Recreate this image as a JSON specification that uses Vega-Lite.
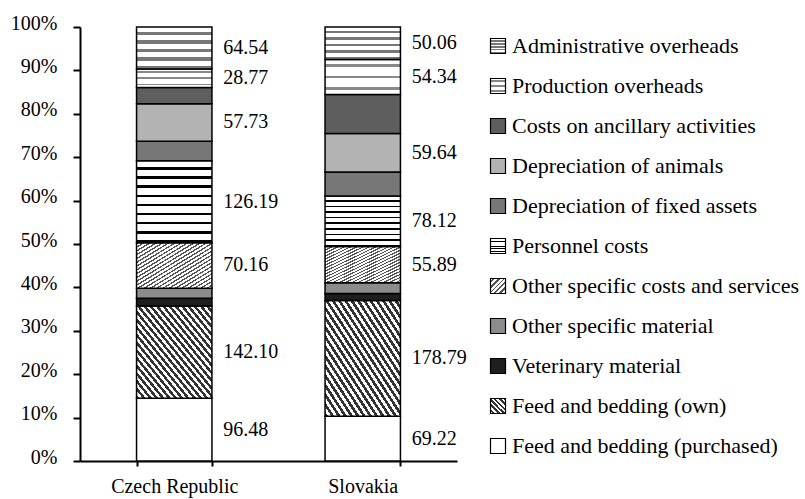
{
  "$schema": "https://vega.github.io/schema/vega-lite/v6.json",
  "width": 377,
  "height": 434,
  "autosize": {"type": "none"},
  "padding": {"left": 80, "top": 27, "right": 348, "bottom": 38},
  "background": "white",
  "config": {
    "font": "Liberation Serif",
    "view": {"stroke": null},
    "axis": {"labelFont": "Liberation Serif", "labelColor": "black", "domainColor": "black", "tickColor": "black", "domainWidth": 2, "tickWidth": 2, "grid": false, "title": null},
    "legend": {"labelFont": "Liberation Serif", "labelColor": "black"}
  },
  "data": {
    "values": [
      {"country": "Czech Republic", "cat": "Feed and bedding (purchased)", "rank": 1, "value": 96.48, "label": "96.48"},
      {"country": "Czech Republic", "cat": "Feed and bedding (own)", "rank": 2, "value": 142.10, "label": "142.10"},
      {"country": "Czech Republic", "cat": "Veterinary material", "rank": 3, "value": 12.0, "label": ""},
      {"country": "Czech Republic", "cat": "Other specific material", "rank": 4, "value": 15.4, "label": ""},
      {"country": "Czech Republic", "cat": "Other specific costs and services", "rank": 5, "value": 70.16, "label": "70.16"},
      {"country": "Czech Republic", "cat": "Personnel costs", "rank": 6, "value": 126.19, "label": "126.19"},
      {"country": "Czech Republic", "cat": "Depreciation of fixed assets", "rank": 7, "value": 30.0, "label": ""},
      {"country": "Czech Republic", "cat": "Depreciation of animals", "rank": 8, "value": 57.73, "label": "57.73"},
      {"country": "Czech Republic", "cat": "Costs on ancillary activities", "rank": 9, "value": 24.8, "label": ""},
      {"country": "Czech Republic", "cat": "Production overheads", "rank": 10, "value": 28.77, "label": "28.77"},
      {"country": "Czech Republic", "cat": "Administrative overheads", "rank": 11, "value": 64.54, "label": "64.54"},
      {"country": "Slovakia", "cat": "Feed and bedding (purchased)", "rank": 1, "value": 69.22, "label": "69.22"},
      {"country": "Slovakia", "cat": "Feed and bedding (own)", "rank": 2, "value": 178.79, "label": "178.79"},
      {"country": "Slovakia", "cat": "Veterinary material", "rank": 3, "value": 10.8, "label": ""},
      {"country": "Slovakia", "cat": "Other specific material", "rank": 4, "value": 16.8, "label": ""},
      {"country": "Slovakia", "cat": "Other specific costs and services", "rank": 5, "value": 55.89, "label": "55.89"},
      {"country": "Slovakia", "cat": "Personnel costs", "rank": 6, "value": 78.12, "label": "78.12"},
      {"country": "Slovakia", "cat": "Depreciation of fixed assets", "rank": 7, "value": 37.0, "label": ""},
      {"country": "Slovakia", "cat": "Depreciation of animals", "rank": 8, "value": 59.64, "label": "59.64"},
      {"country": "Slovakia", "cat": "Costs on ancillary activities", "rank": 9, "value": 60.0, "label": ""},
      {"country": "Slovakia", "cat": "Production overheads", "rank": 10, "value": 54.34, "label": "54.34"},
      {"country": "Slovakia", "cat": "Administrative overheads", "rank": 11, "value": 50.06, "label": "50.06"}
    ]
  },
  "encoding": {
    "x": {
      "field": "country", "type": "nominal", "sort": ["Czech Republic", "Slovakia"],
      "scale": {"paddingInner": 0.6, "paddingOuter": 0.3},
      "axis": {"labelAngle": 0, "tickBand": "extent", "tickSize": 5, "labelFontSize": 20, "labelPadding": 10}
    },
    "order": {"field": "rank", "type": "quantitative", "sort": "ascending"}
  },
  "layer": [
    {
      "mark": {"type": "bar", "stroke": "black", "strokeWidth": 1.5, "opacity": 1},
      "encoding": {
        "y": {
          "field": "value", "type": "quantitative", "stack": "normalize",
          "scale": {"domain": [0, 1]},
          "axis": {"values": [0, 0.1, 0.2, 0.3, 0.4, 0.5, 0.6, 0.7, 0.8, 0.9, 1], "format": ".0%", "tickSize": 7, "labelFontSize": 20, "labelPadding": 16, "labelOffset": -4}
        },
        "fill": {
          "field": "cat", "type": "nominal",
          "scale": {
            "domain": ["Administrative overheads", "Production overheads", "Costs on ancillary activities", "Depreciation of animals", "Depreciation of fixed assets", "Personnel costs", "Other specific costs and services", "Other specific material", "Veterinary material", "Feed and bedding (own)", "Feed and bedding (purchased)"],
            "range": [
              {"expr": "{gradient:'linear',x1:0,y1:0,x2:0,y2:1,stops:[{offset:0,color:'#fff'},{offset:0.12,color:'#fff'},{offset:0.12,color:'#777'},{offset:0.2,color:'#777'},{offset:0.2,color:'#fff'},{offset:0.32,color:'#fff'},{offset:0.32,color:'#777'},{offset:0.4,color:'#777'},{offset:0.4,color:'#fff'},{offset:0.52,color:'#fff'},{offset:0.52,color:'#777'},{offset:0.6,color:'#777'},{offset:0.6,color:'#fff'},{offset:0.72,color:'#fff'},{offset:0.72,color:'#777'},{offset:0.8,color:'#777'},{offset:0.8,color:'#fff'},{offset:0.92,color:'#fff'},{offset:0.92,color:'#777'},{offset:1,color:'#777'}]}"},
              {"expr": "{gradient:'linear',x1:0,y1:0,x2:0,y2:1,stops:[{offset:0,color:'#fff'},{offset:0.125,color:'#fff'},{offset:0.125,color:'#888'},{offset:0.2083,color:'#888'},{offset:0.2083,color:'#fff'},{offset:0.4583,color:'#fff'},{offset:0.4583,color:'#888'},{offset:0.5417,color:'#888'},{offset:0.5417,color:'#fff'},{offset:0.7917,color:'#fff'},{offset:0.7917,color:'#888'},{offset:0.875,color:'#888'},{offset:0.875,color:'#fff'},{offset:1,color:'#fff'}]}"},
              "#5e5e5e",
              "#b3b3b3",
              "#777777",
              {"expr": "{gradient:'linear',x1:0,y1:0,x2:0,y2:1,stops:[{offset:0,color:'#fff'},{offset:0.08,color:'#fff'},{offset:0.08,color:'#000'},{offset:0.1111,color:'#000'},{offset:0.1111,color:'#fff'},{offset:0.1911,color:'#fff'},{offset:0.1911,color:'#000'},{offset:0.2222,color:'#000'},{offset:0.2222,color:'#fff'},{offset:0.3022,color:'#fff'},{offset:0.3022,color:'#000'},{offset:0.3333,color:'#000'},{offset:0.3333,color:'#fff'},{offset:0.4133,color:'#fff'},{offset:0.4133,color:'#000'},{offset:0.4444,color:'#000'},{offset:0.4444,color:'#fff'},{offset:0.5244,color:'#fff'},{offset:0.5244,color:'#000'},{offset:0.5556,color:'#000'},{offset:0.5556,color:'#fff'},{offset:0.6356,color:'#fff'},{offset:0.6356,color:'#000'},{offset:0.6667,color:'#000'},{offset:0.6667,color:'#fff'},{offset:0.7467,color:'#fff'},{offset:0.7467,color:'#000'},{offset:0.7778,color:'#000'},{offset:0.7778,color:'#fff'},{offset:0.8578,color:'#fff'},{offset:0.8578,color:'#000'},{offset:0.8889,color:'#000'},{offset:0.8889,color:'#fff'},{offset:0.9689,color:'#fff'},{offset:0.9689,color:'#000'},{offset:1,color:'#000'}]}"},
              {"expr": "{gradient:'linear',x1:0,y1:0,x2:1,y2:1,stops:[{offset:0,color:'#555'},{offset:0.0167,color:'#555'},{offset:0.0167,color:'#fff'},{offset:0.0417,color:'#fff'},{offset:0.0417,color:'#555'},{offset:0.0583,color:'#555'},{offset:0.0583,color:'#fff'},{offset:0.0833,color:'#fff'},{offset:0.0833,color:'#555'},{offset:0.1,color:'#555'},{offset:0.1,color:'#fff'},{offset:0.125,color:'#fff'},{offset:0.125,color:'#555'},{offset:0.1417,color:'#555'},{offset:0.1417,color:'#fff'},{offset:0.1667,color:'#fff'},{offset:0.1667,color:'#555'},{offset:0.1833,color:'#555'},{offset:0.1833,color:'#fff'},{offset:0.2083,color:'#fff'},{offset:0.2083,color:'#555'},{offset:0.225,color:'#555'},{offset:0.225,color:'#fff'},{offset:0.25,color:'#fff'},{offset:0.25,color:'#555'},{offset:0.2667,color:'#555'},{offset:0.2667,color:'#fff'},{offset:0.2917,color:'#fff'},{offset:0.2917,color:'#555'},{offset:0.3083,color:'#555'},{offset:0.3083,color:'#fff'},{offset:0.3333,color:'#fff'},{offset:0.3333,color:'#555'},{offset:0.35,color:'#555'},{offset:0.35,color:'#fff'},{offset:0.375,color:'#fff'},{offset:0.375,color:'#555'},{offset:0.3917,color:'#555'},{offset:0.3917,color:'#fff'},{offset:0.4167,color:'#fff'},{offset:0.4167,color:'#555'},{offset:0.4333,color:'#555'},{offset:0.4333,color:'#fff'},{offset:0.4583,color:'#fff'},{offset:0.4583,color:'#555'},{offset:0.475,color:'#555'},{offset:0.475,color:'#fff'},{offset:0.5,color:'#fff'},{offset:0.5,color:'#555'},{offset:0.5167,color:'#555'},{offset:0.5167,color:'#fff'},{offset:0.5417,color:'#fff'},{offset:0.5417,color:'#555'},{offset:0.5583,color:'#555'},{offset:0.5583,color:'#fff'},{offset:0.5833,color:'#fff'},{offset:0.5833,color:'#555'},{offset:0.6,color:'#555'},{offset:0.6,color:'#fff'},{offset:0.625,color:'#fff'},{offset:0.625,color:'#555'},{offset:0.6417,color:'#555'},{offset:0.6417,color:'#fff'},{offset:0.6667,color:'#fff'},{offset:0.6667,color:'#555'},{offset:0.6833,color:'#555'},{offset:0.6833,color:'#fff'},{offset:0.7083,color:'#fff'},{offset:0.7083,color:'#555'},{offset:0.725,color:'#555'},{offset:0.725,color:'#fff'},{offset:0.75,color:'#fff'},{offset:0.75,color:'#555'},{offset:0.7667,color:'#555'},{offset:0.7667,color:'#fff'},{offset:0.7917,color:'#fff'},{offset:0.7917,color:'#555'},{offset:0.8083,color:'#555'},{offset:0.8083,color:'#fff'},{offset:0.8333,color:'#fff'},{offset:0.8333,color:'#555'},{offset:0.85,color:'#555'},{offset:0.85,color:'#fff'},{offset:0.875,color:'#fff'},{offset:0.875,color:'#555'},{offset:0.8917,color:'#555'},{offset:0.8917,color:'#fff'},{offset:0.9167,color:'#fff'},{offset:0.9167,color:'#555'},{offset:0.9333,color:'#555'},{offset:0.9333,color:'#fff'},{offset:0.9583,color:'#fff'},{offset:0.9583,color:'#555'},{offset:0.975,color:'#555'},{offset:0.975,color:'#fff'},{offset:1,color:'#fff'}]}"},
              "#8c8c8c",
              "#1e1e1e",
              {"expr": "{gradient:'linear',x1:0,y1:1,x2:1,y2:0,stops:[{offset:0,color:'#333'},{offset:0.0208,color:'#333'},{offset:0.0208,color:'#fff'},{offset:0.0417,color:'#fff'},{offset:0.0417,color:'#333'},{offset:0.0625,color:'#333'},{offset:0.0625,color:'#fff'},{offset:0.0833,color:'#fff'},{offset:0.0833,color:'#333'},{offset:0.1042,color:'#333'},{offset:0.1042,color:'#fff'},{offset:0.125,color:'#fff'},{offset:0.125,color:'#333'},{offset:0.1458,color:'#333'},{offset:0.1458,color:'#fff'},{offset:0.1667,color:'#fff'},{offset:0.1667,color:'#333'},{offset:0.1875,color:'#333'},{offset:0.1875,color:'#fff'},{offset:0.2083,color:'#fff'},{offset:0.2083,color:'#333'},{offset:0.2292,color:'#333'},{offset:0.2292,color:'#fff'},{offset:0.25,color:'#fff'},{offset:0.25,color:'#333'},{offset:0.2708,color:'#333'},{offset:0.2708,color:'#fff'},{offset:0.2917,color:'#fff'},{offset:0.2917,color:'#333'},{offset:0.3125,color:'#333'},{offset:0.3125,color:'#fff'},{offset:0.3333,color:'#fff'},{offset:0.3333,color:'#333'},{offset:0.3542,color:'#333'},{offset:0.3542,color:'#fff'},{offset:0.375,color:'#fff'},{offset:0.375,color:'#333'},{offset:0.3958,color:'#333'},{offset:0.3958,color:'#fff'},{offset:0.4167,color:'#fff'},{offset:0.4167,color:'#333'},{offset:0.4375,color:'#333'},{offset:0.4375,color:'#fff'},{offset:0.4583,color:'#fff'},{offset:0.4583,color:'#333'},{offset:0.4792,color:'#333'},{offset:0.4792,color:'#fff'},{offset:0.5,color:'#fff'},{offset:0.5,color:'#333'},{offset:0.5208,color:'#333'},{offset:0.5208,color:'#fff'},{offset:0.5417,color:'#fff'},{offset:0.5417,color:'#333'},{offset:0.5625,color:'#333'},{offset:0.5625,color:'#fff'},{offset:0.5833,color:'#fff'},{offset:0.5833,color:'#333'},{offset:0.6042,color:'#333'},{offset:0.6042,color:'#fff'},{offset:0.625,color:'#fff'},{offset:0.625,color:'#333'},{offset:0.6458,color:'#333'},{offset:0.6458,color:'#fff'},{offset:0.6667,color:'#fff'},{offset:0.6667,color:'#333'},{offset:0.6875,color:'#333'},{offset:0.6875,color:'#fff'},{offset:0.7083,color:'#fff'},{offset:0.7083,color:'#333'},{offset:0.7292,color:'#333'},{offset:0.7292,color:'#fff'},{offset:0.75,color:'#fff'},{offset:0.75,color:'#333'},{offset:0.7708,color:'#333'},{offset:0.7708,color:'#fff'},{offset:0.7917,color:'#fff'},{offset:0.7917,color:'#333'},{offset:0.8125,color:'#333'},{offset:0.8125,color:'#fff'},{offset:0.8333,color:'#fff'},{offset:0.8333,color:'#333'},{offset:0.8542,color:'#333'},{offset:0.8542,color:'#fff'},{offset:0.875,color:'#fff'},{offset:0.875,color:'#333'},{offset:0.8958,color:'#333'},{offset:0.8958,color:'#fff'},{offset:0.9167,color:'#fff'},{offset:0.9167,color:'#333'},{offset:0.9375,color:'#333'},{offset:0.9375,color:'#fff'},{offset:0.9583,color:'#fff'},{offset:0.9583,color:'#333'},{offset:0.9792,color:'#333'},{offset:0.9792,color:'#fff'},{offset:1,color:'#fff'}]}"},
              "#ffffff"
            ]
          },
          "legend": {
            "title": null, "orient": "none", "legendX": 407, "legendY": 8, "padding": 0,
            "symbolType": "square", "symbolSize": 225, "symbolStrokeColor": "black", "symbolStrokeWidth": 1.2,
            "labelFontSize": 22, "labelOffset": 3, "rowPadding": 18, "labelLimit": 400
          }
        }
      }
    },
    {
      "mark": {"type": "text", "align": "left", "baseline": "middle", "dx": 49, "fontSize": 20, "color": "black", "font": "Liberation Serif"},
      "encoding": {
        "y": {"field": "value", "type": "quantitative", "stack": "normalize", "bandPosition": 0.5},
        "detail": {"field": "cat", "type": "nominal"},
        "text": {"field": "label", "type": "nominal"}
      }
    }
  ]
}
